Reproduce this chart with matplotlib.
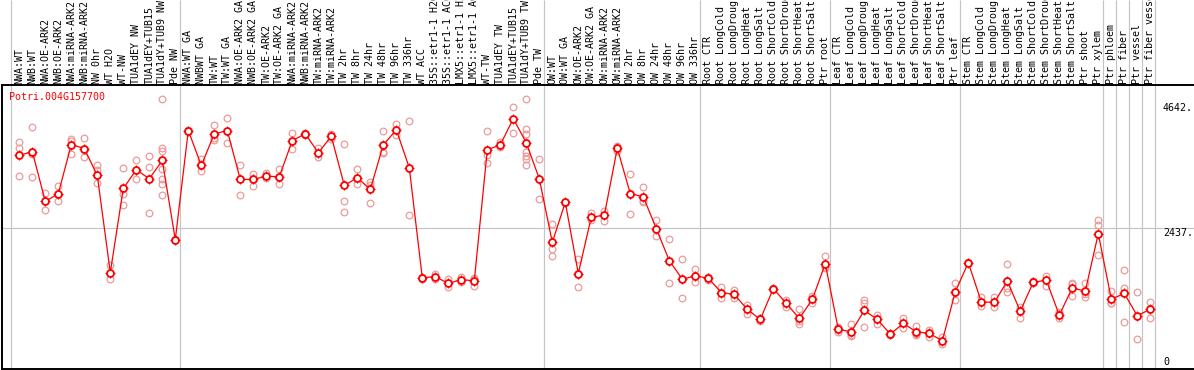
import matplotlib
matplotlib.use("Agg")
import matplotlib.pyplot as plt
from matplotlib.transforms import blended_transform_factory

gene_id = "Potri.004G157700"

sample_labels = [
    "NWA:WT", "NWB:WT", "NWA:OE-ARK2", "NWB:OE-ARK2", "NWA:miRNA-ARK2", "NWB:miRNA-ARK2",
    "NW 0hr", "WT H2O", "WT-NW", "TUA1dEY NW", "TUA1dEY+TUB15", "TUA1dY+TUB9 NW", "Pde NW",
    "NWA:WT GA", "NWBWT GA", "TW:WT", "TW:WT GA", "NWA:OE-ARK2 GA", "NWB:OE-ARK2 GA",
    "TW:OE-ARK2", "TW:OE-ARK2 GA", "NWA:miRNA-ARK2", "NWB:miRNA-ARK2", "TW:miRNA-ARK2",
    "TW:miRNA-ARK2", "TW 2hr", "TW 8hr", "TW 24hr", "TW 48hr", "TW 96hr", "TW 336hr",
    "WT ACC", "35S::etr1-1 H2O", "35S::etr1-1 ACC", "LMX5::etr1-1 H2O", "LMX5::etr1-1 ACC",
    "WT-TW", "TUA1dEY TW", "TUA1dEY+TUB15", "TUA1dY+TUB9 TW", "Pde TW",
    "OW:WT", "OW:WT GA", "OW:OE-ARK2", "OW:OE-ARK2 GA", "OW:miRNA-ARK2", "OW:miRNA-ARK2",
    "OW 2hr", "OW 8hr", "OW 24hr", "OW 48hr", "OW 96hr", "OW 336hr",
    "Root CTR", "Root LongCold", "Root LongDrought", "Root LongHeat", "Root LongSalt",
    "Root ShortCold", "Root ShortDrought", "Root ShortHeat", "Root ShortSalt", "Ptr root",
    "Leaf CTR", "Leaf LongCold", "Leaf LongDrought", "Leaf LongHeat", "Leaf LongSalt",
    "Leaf ShortCold", "Leaf ShortDrought", "Leaf ShortHeat", "Leaf ShortSalt", "Ptr leaf",
    "Stem CTR", "Stem LongCold", "Stem LongDrought", "Stem LongHeat", "Stem LongSalt",
    "Stem ShortCold", "Stem ShortDrought", "Stem ShortHeat", "Stem ShortSalt", "Ptr shoot",
    "Ptr xylem", "Ptr phloem", "Ptr fiber", "Ptr vessel", "Ptr fiber vessel",
]

mean_values = [
    3698, 3767, 2903, 3036, 3888, 3819, 3352, 1671, 3128, 3451, 3295, 3612, 2241,
    4130, 3525, 4073, 4130, 3283, 3283, 3340, 3330, 3957, 4073, 3745, 4031, 3180,
    3313, 3110, 3883, 4142, 3485, 1578, 1602, 1481, 1550, 1526, 3796, 3883, 4337,
    3917, 3295,
    2195, 2886, 1654, 2632, 2661, 3824, 3036, 2984, 2431, 1878, 1555, 1612,
    1572, 1325, 1291, 1032, 859, 1394, 1135, 876, 1204, 1826,
    686, 645, 1014, 859, 605, 790, 645, 617, 489, 1336,
    1844, 1163, 1153, 1521, 1002, 1503, 1538, 933, 1405, 1348,
    2345, 1210, 1308, 921, 1037,
]

replicate_values = [
    [3940, 3831, 3347], [4199, 3727, 3330], [3053, 2903, 2760], [3174, 3036, 2903],
    [3986, 3957, 3727], [4004, 3802, 3675], [3537, 3439, 3352, 3226], [1797, 1671, 1560],
    [3485, 3036, 2846], [3624, 3451, 3283], [3681, 3503, 2708],
    [4678, 3824, 3784, 3468, 3283, 3209, 3019], [2241, 2230, 2255],
    [4142, 4130, 4118], [3629, 3525, 3427], [4234, 4004, 3969], [4355, 3917],
    [3537, 3019], [3375, 3162, 3283], [3387, 3300], [3456, 3209], [4090, 3814],
    [4073, 4090, 4056], [3824, 3669], [4066, 3986], [3900, 2903, 2713], [3456, 3209],
    [3237, 3180, 2881], [4125, 3767, 3738], [4239, 4056], [4303, 2673],
    [1578, 1590, 1566], [1650, 1555, 1602], [1555, 1422], [1602, 1509],
    [1567, 1429, 1580], [4125, 3698, 3565], [3928, 3838], [4539, 4090],
    [4683, 4159, 4073, 3755, 3681, 3537, 3640], [3641, 2950],
    [2518, 2074, 1965], [2886, 2900, 2870], [1913, 1417, 1650], [2696, 2575],
    [2730, 2563], [3871, 3824, 3780], [3382, 2690], [3157, 2891, 2905], [2575, 2303],
    [2246, 1498], [1901, 1222], [1728, 1509], [1595, 1572, 1550],
    [1417, 1222], [1370, 1232], [1106, 1032, 958], [886, 859, 832], [1394, 1410, 1380],
    [1192, 1077], [1032, 876, 772, 824], [1267, 1135], [1965, 1750, 1763],
    [686, 645, 727], [778, 575, 582], [1192, 1135, 721], [933, 778], [605, 620, 590],
    [876, 714], [738, 605, 592], [674, 558], [548, 430], [1498, 1192],
    [1844, 1860, 1828], [1249, 1094], [1249, 1077], [1826, 1336, 1400], [1077, 886],
    [1503, 1520, 1486], [1612, 1439], [990, 876], [1481, 1261, 1473], [1498, 1239, 1307],
    [2575, 2500, 1970], [1348, 1135, 1147], [1711, 1405, 817], [1336, 518], [1153, 876],
]

group_starts = [0, 13, 41, 53, 63, 73, 84, 85, 86, 87, 88]
axis_labels = [(4642, "4642."), (2437, "2437."), (0, "0")]
grid_value = 2437

W, H = 1194, 370
fig = plt.figure(figsize=(W / 100, H / 100), dpi=100)
fig.patch.set_facecolor("white")

# axes box in pixels: left 1.5, right 1194, top 85, bottom 369
ax = fig.add_axes([1.5 / W, 1.0 / H, (W - 1.5) / W, (369 - 85) / H])
n = len(sample_labels)
step = 13.0
x_first = 19.3
ax.set_xlim((1.5 - x_first) / step, (W - x_first) / step)
ax.set_ylim(0, (369 - 85) * 2437 / (369 - 228.3))
ax.set_xticks([])
ax.set_yticks([])
for s in ["left", "top", "bottom"]:
    ax.spines[s].set_color("black")
    ax.spines[s].set_linewidth(1.4)
ax.spines["right"].set_visible(False)

mono = "DejaVu Sans Mono"
grid_col = "#c4c4c4"

# horizontal grid line
ax.axhline(grid_value, color=grid_col, lw=0.85, zorder=0)

# vertical group separators (full figure height)
vtrans = blended_transform_factory(ax.transData, fig.transFigure)
offset = 8.6 / step
ax.vlines([g - offset for g in group_starts], 0, 1, transform=vtrans,
          colors=grid_col, lw=0.85, clip_on=False, zorder=0)

xs = list(range(n))

# replicates
rx, ry = [], []
for i, reps in enumerate(replicate_values):
    for v in reps:
        rx.append(i)
        ry.append(v)
ax.plot(rx, ry, linestyle="none", marker="o", ms=4.8, mew=0.9,
        mec="#ec9a9a", mfc="none", zorder=2, clip_on=False)

# mean line
ax.plot(xs, mean_values, color="red", lw=0.9, zorder=3)
ax.plot(xs, mean_values, linestyle="none", marker="+", ms=6.6, mew=0.8,
        color="red", zorder=4)
ax.plot(xs, mean_values, linestyle="none", marker="o", ms=5.0, mew=1.3,
        mec="red", mfc="white", zorder=5)

# header labels
for i, lab in enumerate(sample_labels):
    fig.text(i, (H - 83.8) / H, lab, transform=vtrans, rotation=90,
             ha="center", va="bottom", fontsize=7.2, family=mono, color="black")

# gene label
fig.text(9.3 / W, 1 - 97 / H, gene_id, ha="left", va="center", fontsize=7.2,
         family=mono, color="red")

# value labels on the right
ltrans = blended_transform_factory(fig.transFigure, ax.transData)
top_val = max(v for v, _ in axis_labels)
for val, txt in axis_labels:
    if val == 0:
        dy, va = 2, "bottom"
    elif val == top_val:
        dy, va = -2, "top"
    else:
        dy, va = 0, "top"
    ax.annotate(txt, xy=(1163 / W, val), xycoords=ltrans, xytext=(0, dy),
                textcoords="offset pixels", ha="left", va=va,
                fontsize=7.2, family=mono, annotation_clip=False)

fig.savefig("out.png", dpi=100)
